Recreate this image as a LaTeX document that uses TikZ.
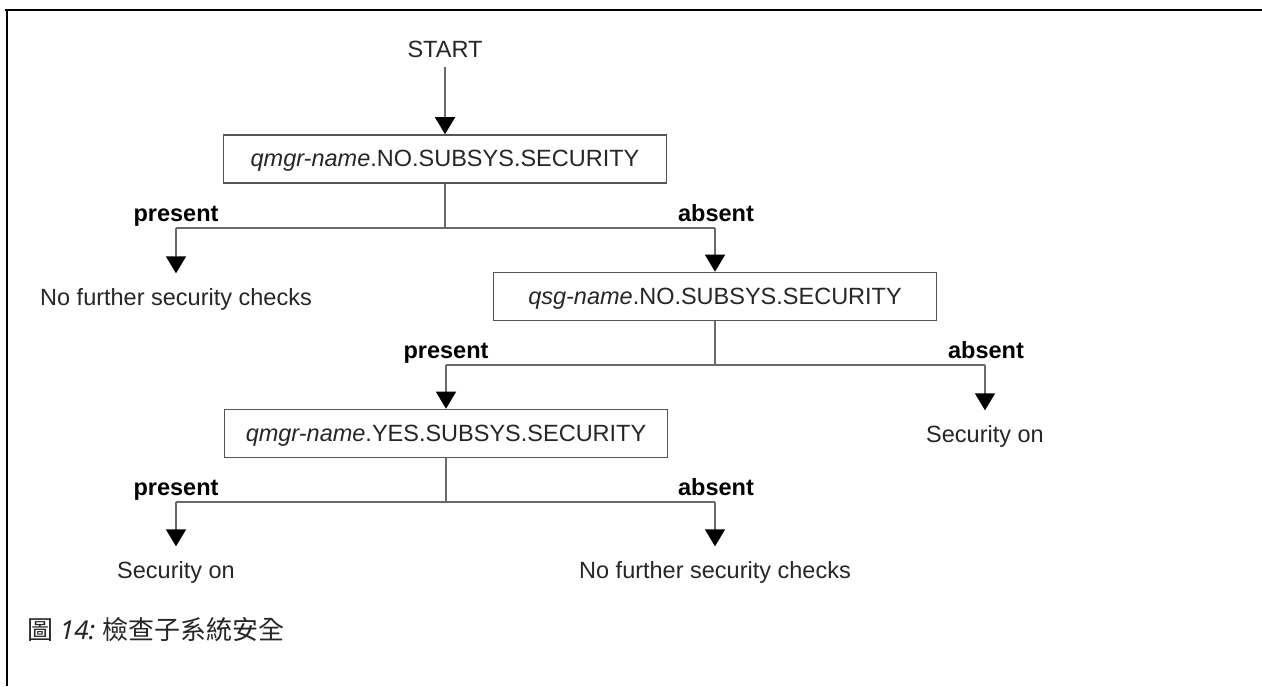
\documentclass[tikz,border=0pt]{standalone}
\usepackage{fontspec}
\setmainfont{Liberation Sans}
\newfontfamily\cjkfont{Noto Sans CJK TC}
\newfontfamily\capfont{Noto Sans}
\usetikzlibrary{arrows.meta}
\definecolor{linegray}{HTML}{6A6A6A}
\definecolor{boxgray}{HTML}{555555}
\definecolor{txt}{HTML}{262626}
\begin{document}
\begin{tikzpicture}[x=1pt,y=-1pt,
  every node/.style={font=\fontsize{23.5}{28}\selectfont, text=txt},
  conn/.style={draw=linegray, line width=1.4pt},
  arr/.style={conn, -{Triangle[width=20pt,length=17pt,color=black,fill=black]}},
  box/.style={draw=boxgray, line width=1.6pt, minimum width=443pt, minimum height=48pt,
              inner sep=0pt, text height=17pt, text depth=2pt, fill=white},
  outcome/.style={anchor=base, text height=17pt, text depth=5pt, inner xsep=0pt, inner ysep=15pt},
  lab/.style={anchor=base, font=\fontsize{23.5}{28}\selectfont\bfseries, inner sep=0pt, text=black},
  frameline/.style={draw=black, line width=2.5pt}
]
\useasboundingbox (0,0) rectangle (1262,686);
% frame
\draw[frameline] (5,10) -- (1262,10);
\draw[frameline] (7,9) -- (7,686);

% start
\node[anchor=base, text depth=0pt, inner xsep=0pt, inner ysep=9.5pt] (start) at (445,57.5) {START};
\node[box] (b1) at (445,159) {\textit{qmgr-name}.NO.SUBSYS.SECURITY};
\draw[arr] (start.south) -- (b1.north);

% level 1
\coordinate (j1) at (445,228);
\coordinate (j1l) at (176,228);
\coordinate (j1r) at (715,228);
\node[lab] (p1) at (176,221.5) {present};
\node[lab] (a1) at (716,221.5) {absent};
\node[outcome] (nf1) at (176,305.5) {No further security checks};
\node[box] (b2) at (715,296.5) {\textit{qsg-name}.NO.SUBSYS.SECURITY};
\draw[conn] (b1.south) -- (j1);
\draw[conn] (j1l) -- (j1r);
\draw[arr] (j1l) -- (nf1.north);
\draw[arr] (j1r) -- (b2.north);

% level 2
\coordinate (j2) at (715,365);
\coordinate (j2l) at (446,365);
\coordinate (j2r) at (985,365);
\node[lab] (p2) at (446,358.5) {present};
\node[lab] (a2) at (986,358.5) {absent};
\node[outcome] (so1) at (985,442.5) {Security on};
\node[box] (b3) at (446,433.5) {\textit{qmgr-name}.YES.SUBSYS.SECURITY};
\draw[conn] (b2.south) -- (j2);
\draw[conn] (j2l) -- (j2r);
\draw[arr] (j2r) -- (so1.north);
\draw[arr] (j2l) -- (b3.north);

% level 3
\coordinate (j3) at (446,502);
\coordinate (j3l) at (176,502);
\coordinate (j3r) at (715,502);
\node[lab] (p3) at (176,495.5) {present};
\node[lab] (a3) at (716,495.5) {absent};
\node[outcome] (so2) at (176,578.5) {Security on};
\node[outcome] (nf2) at (715,578.5) {No further security checks};
\draw[conn] (b3.south) -- (j3);
\draw[conn] (j3l) -- (j3r);
\draw[arr] (j3l) -- (so2.north);
\draw[arr] (j3r) -- (nf2.north);

% caption
\node[anchor=base west, inner sep=0pt, font=\fontsize{26}{30}\selectfont, text=txt] (cap) at (27,639)
  {{\cjkfont 圖}{\capfont\ \itshape 14:\ }{\cjkfont 檢查子系統安全}};
\end{tikzpicture}
\end{document}
